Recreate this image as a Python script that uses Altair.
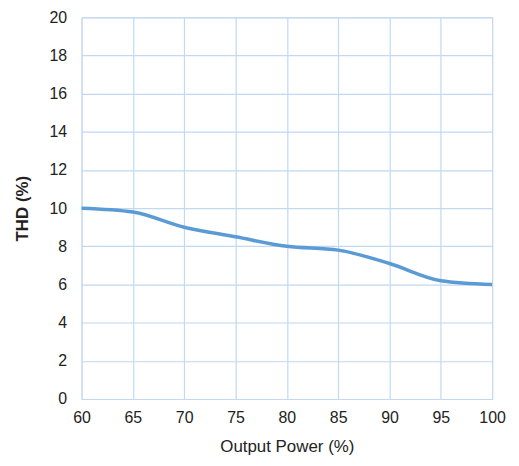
import altair as alt
import pandas as pd

power = [60, 65, 70, 75, 80, 85, 90, 95, 100]
thd = [10.0, 9.8, 9.0, 8.5, 8.0, 7.8, 7.1, 6.2, 6.0]

df = pd.DataFrame({"power": power, "thd": thd})

grid_color = "#c2d8f3"
font = "Liberation Sans"

chart = alt.Chart(df).mark_line(
    color="#5b9bd5", strokeWidth=3.5, interpolate="monotone"
).encode(
    x=alt.X("power:Q", scale=alt.Scale(domain=[60, 100], nice=False, zero=False),
            axis=alt.Axis(values=power, title="Output Power (%)", grid=True,
                          gridColor=grid_color, gridWidth=1.2, domain=False, ticks=False,
                          labelFlush=False, labelOverlap=False,
                          labelFontSize=16, labelColor="#222", labelFont=font,
                          labelPadding=11, titleFont=font, titleFontSize=17,
                          titleFontWeight="normal", titleColor="#222", titlePadding=13)),
    y=alt.Y("thd:Q", scale=alt.Scale(domain=[0, 20], nice=False),
            axis=alt.Axis(values=list(range(0, 21, 2)), title="THD (%)", grid=True,
                          gridColor=grid_color, gridWidth=1.2, domain=False, ticks=False,
                          labelFlush=False, labelOverlap=False,
                          labelFontSize=16, labelColor="#222", labelFont=font,
                          labelPadding=15, titleFont=font, titleFontSize=17,
                          titleFontWeight="bold", titleColor="#222", titlePadding=18)),
).properties(
    width=413, height=384,
    padding={"left": 5, "top": 0, "right": 5, "bottom": 5},
).configure_view(stroke=None).configure(background="white")

chart.save("out.html", embed_options={"renderer": "svg", "actions": False})
